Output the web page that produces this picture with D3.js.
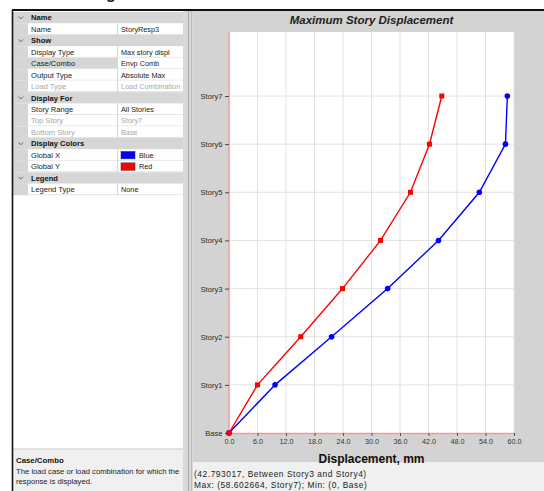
<!DOCTYPE html>
<html><head><meta charset="utf-8">
<script src="https://cdn.jsdelivr.net/npm/d3@7/dist/d3.min.js"></script>
<style>
html,body{margin:0;padding:0;background:#fff;}
svg{display:block;font-family:"Liberation Sans",Arial,sans-serif;}
</style></head>
<body><svg id="c" width="544" height="491"></svg>
<script>
// ---- data ----
const stories = ["Base","Story1","Story2","Story3","Story4","Story5","Story6","Story7"];
const globalX = [0, 9.7, 21.6, 33.4, 44.1, 52.7, 58.2, 58.6];   // blue
const globalY = [0, 6.0, 15.1, 23.9, 31.9, 38.2, 42.2, 44.8];    // red
const xTicks = [0, 6, 12, 18, 24, 30, 36, 42, 48, 54, 60];
const title = "Maximum Story Displacement";
const xLabel = "Displacement, mm";
const statusLines = ["(42.793017, Between Story3 and Story4)", "Max: (58.602664, Story7);  Min: (0, Base)"];
const propRows = [
  {h:true, name:"Name"},
  {name:"Name", val:"StoryResp3"},
  {h:true, name:"Show"},
  {name:"Display Type", val:"Max story displ"},
  {name:"Case/Combo", val:"Envp Comb", sel:true},
  {name:"Output Type", val:"Absolute Max"},
  {name:"Load Type", val:"Load Combination", dis:true},
  {h:true, name:"Display For"},
  {name:"Story Range", val:"All Stories"},
  {name:"Top Story", val:"Story7", dis:true},
  {name:"Bottom Story", val:"Base", dis:true},
  {h:true, name:"Display Colors"},
  {name:"Global X", val:"Blue", sw:"#0000ff"},
  {name:"Global Y", val:"Red", sw:"#ff0000"},
  {h:true, name:"Legend"},
  {name:"Legend Type", val:"None"}
];
const descTitle = "Case/Combo";
const descLines = ["The load case or load combination for which the", "response is displayed."];

const svg = d3.select("#c");

// partial heading descender at very top (cropped in the reference)
svg.append("text").attr("x",106).attr("y",-1).attr("font-size",16).attr("font-weight","bold").attr("fill","#222").text("g");

// ---- left panel ----
const L0 = 13, L1 = 183, colX = 117.5, rowTop = 12, rowH = 11.45;
svg.append("rect").attr("x",L0).attr("y",11).attr("width",L1-L0).attr("height",438).attr("fill","#fff");
const rows = svg.append("g");
propRows.forEach((r,i)=>{
  const y0 = rowTop + i*rowH;
  const g = rows.append("g");
  if(r.h){
    g.append("rect").attr("x",L0).attr("y",y0).attr("width",L1-L0).attr("height",rowH).attr("fill","#d6d6d6");
    g.append("path").attr("d",`M${L0+5.5},${y0+4.5} l2.3,2.3 l2.3,-2.3`).attr("fill","none").attr("stroke","#555").attr("stroke-width",0.9);
    g.append("text").attr("x",31).attr("y",y0+rowH/2).attr("dy","0.35em").attr("font-size",7.6).attr("font-weight","bold").attr("fill","#111").text(r.name);
  } else {
    g.append("rect").attr("x",L0).attr("y",y0).attr("width",15).attr("height",rowH).attr("fill","#d6d6d6");
    g.append("rect").attr("x",28).attr("y",y0).attr("width",colX-28).attr("height",rowH).attr("fill",r.sel?"#d6d6d6":"#fff");
    g.append("rect").attr("x",colX).attr("y",y0).attr("width",L1-colX).attr("height",rowH).attr("fill","#fff");
    g.append("line").attr("x1",28).attr("x2",L1).attr("y1",y0+rowH-0.5).attr("y2",y0+rowH-0.5).attr("stroke","#e4e4e4");
    g.append("line").attr("x1",colX).attr("x2",colX).attr("y1",y0).attr("y2",y0+rowH).attr("stroke","#d8d8d8");
    const col = r.dis ? "#a8a8a8" : "#222";
    g.append("text").attr("x",31).attr("y",y0+rowH/2).attr("dy","0.35em").attr("font-size",7.6).attr("fill",col).text(r.name);
    let vx = 121;
    if(r.sw){
      g.append("rect").attr("x",121).attr("y",y0+2).attr("width",14).attr("height",rowH-4).attr("fill",r.sw).attr("stroke","#333").attr("stroke-width",0.5);
      vx = 139;
    }
    g.append("text").attr("x",vx).attr("y",y0+rowH/2).attr("dy","0.35em").attr("font-size",7.3).attr("fill",col).text(r.val);
  }
});
// description panel
svg.append("rect").attr("x",L0).attr("y",449).attr("width",L1-L0).attr("height",42).attr("fill","#f0f0f0");
svg.append("line").attr("x1",L0).attr("x2",L1).attr("y1",449).attr("y2",449).attr("stroke","#c8c8c8");
svg.append("text").attr("x",16).attr("y",460).attr("dy","0.35em").attr("font-size",7.8).attr("font-weight","bold").attr("fill","#111").text(descTitle);
descLines.forEach((t,i)=>svg.append("text").attr("x",16).attr("y",471.5+i*9.5).attr("dy","0.35em").attr("font-size",7.7).attr("fill","#222").text(t));

// splitter
svg.append("rect").attr("x",183).attr("y",11).attr("width",10).attr("height",480).attr("fill","#d9d9d9");
svg.append("line").attr("x1",188.5).attr("x2",188.5).attr("y1",11).attr("y2",491).attr("stroke","#a8a8a8").attr("stroke-width",1);
svg.append("line").attr("x1",191.5).attr("x2",191.5).attr("y1",11).attr("y2",491).attr("stroke","#bdbdbd").attr("stroke-width",1);

// ---- right panel ----
svg.append("rect").attr("x",193).attr("y",11).attr("width",351).attr("height",451).attr("fill","#d3d3d3");
svg.append("rect").attr("x",193).attr("y",462).attr("width",351).attr("height",29).attr("fill","#f0f0f0");
statusLines.forEach((t,i)=>svg.append("text").attr("x",194).attr("y",474.5+i*11).attr("dy","0.35em")
  .attr("font-size",8.4).attr("letter-spacing",0.55).attr("fill","#222").text(t));

svg.append("text").attr("x",371.5).attr("y",20).attr("dy","0.35em").attr("text-anchor","middle")
  .attr("font-size",11.5).attr("font-weight","bold").attr("font-style","italic").attr("fill","#222").text(title);

const x = d3.scaleLinear().domain([0,60]).range([229,514]);
const y = d3.scaleLinear().domain([0,8.33]).range([433,32]);

svg.append("rect").attr("x",x(0)).attr("y",y(8.33)).attr("width",x(60)-x(0)).attr("height",y(0)-y(8.33)).attr("fill","#fff");

// grid
const grid = svg.append("g").attr("stroke","#e2e2e2").attr("stroke-width",1);
xTicks.slice(1).forEach(t=>grid.append("line").attr("x1",x(t)).attr("x2",x(t)).attr("y1",y(8.33)).attr("y2",y(0)));
stories.forEach((s,i)=>{ if(i>0) grid.append("line").attr("x1",x(0)).attr("x2",x(60)).attr("y1",y(i)).attr("y2",y(i)); });

// axes
const ax = svg.append("g").attr("transform",`translate(0,${y(0)})`)
  .call(d3.axisBottom(x).tickValues(xTicks).tickFormat(d3.format(".1f")).tickSize(3).tickSizeOuter(0));
ax.select(".domain").attr("stroke","#f29a9a").attr("stroke-width",1.5);
ax.selectAll(".tick line").attr("stroke","#555");
ax.selectAll(".tick text").attr("font-size",7.2).attr("fill","#333").attr("font-family","Liberation Sans, Arial, sans-serif").attr("y",6);

const ay = svg.append("g").attr("transform",`translate(${x(0)},0)`)
  .call(d3.axisLeft(y).tickValues(d3.range(stories.length)).tickFormat(i=>stories[i]).tickSize(4).tickSizeOuter(0));
ay.select(".domain").attr("d",`M0,${y(8.33)}V${y(0)}`).attr("stroke","#f29a9a").attr("stroke-width",1.5);
ay.selectAll(".tick line").attr("stroke","#444");
ay.selectAll(".tick text").attr("font-size",7.6).attr("fill","#2a2a2a").attr("font-family","Liberation Sans, Arial, sans-serif").attr("x",-6.5);

svg.append("text").attr("x",371.5).attr("y",459).attr("dy","0.35em").attr("text-anchor","middle")
  .attr("font-size",12).attr("font-weight","bold").attr("fill","#111").text(xLabel);

// series
const line = d3.line().x(d=>x(d.v)).y(d=>y(d.i));
const dx = globalX.map((v,i)=>({v,i})), dy = globalY.map((v,i)=>({v,i}));
svg.append("path").datum(dx).attr("d",line).attr("fill","none").attr("stroke","#0000ff").attr("stroke-width",1.4);
svg.append("path").datum(dy).attr("d",line).attr("fill","none").attr("stroke","#ff0000").attr("stroke-width",1.4);
svg.append("g").selectAll("circle").data(dx).join("circle").attr("cx",d=>x(d.v)).attr("cy",d=>y(d.i)).attr("r",2.8).attr("fill","#0000ff");
svg.append("g").selectAll("rect").data(dy).join("rect").attr("x",d=>x(d.v)-2.5).attr("y",d=>y(d.i)-2.5).attr("width",5).attr("height",5).attr("fill","#ff0000");

// outer frame lines
svg.append("line").attr("x1",12).attr("x2",544).attr("y1",10).attr("y2",10).attr("stroke","#111").attr("stroke-width",2);
svg.append("line").attr("x1",12.5).attr("x2",12.5).attr("y1",10).attr("y2",491).attr("stroke","#111").attr("stroke-width",1.6);
</script></body></html>
